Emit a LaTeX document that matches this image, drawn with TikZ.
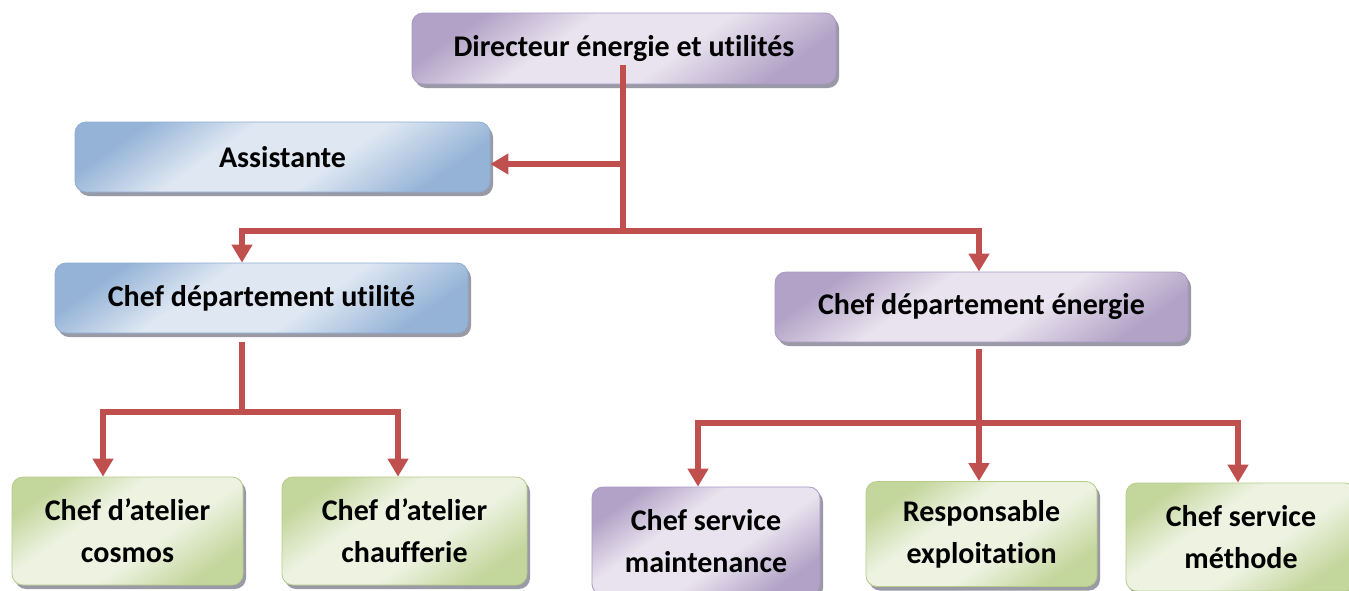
\documentclass[tikz,border=0pt]{standalone}
\usepackage{fontspec}
\setmainfont{Carlito}[Ligatures=NoCommon]
\usetikzlibrary{arrows.meta,shadows}
\definecolor{purD}{HTML}{B3A2C7}
\definecolor{purL}{HTML}{E8E3EE}
\definecolor{purB}{HTML}{A898C4}
\definecolor{bluD}{HTML}{95B3D7}
\definecolor{bluL}{HTML}{DEE7F2}
\definecolor{bluB}{HTML}{8EACD3}
\definecolor{grnD}{HTML}{C3D69B}
\definecolor{grnL}{HTML}{EDF2E1}
\definecolor{grnB}{HTML}{B6CC8A}
\definecolor{shad}{HTML}{9A9AA6}
\definecolor{lnk}{HTML}{C0504D}
\pgfdeclareverticalshading{purshade}{100bp}{color(0bp)=(purD); color(25bp)=(purD); color(42bp)=(purL); color(60bp)=(purL); color(75bp)=(purD); color(100bp)=(purD)}
\pgfdeclareverticalshading{blushade}{100bp}{color(0bp)=(bluD); color(25bp)=(bluD); color(42bp)=(bluL); color(60bp)=(bluL); color(75bp)=(bluD); color(100bp)=(bluD)}
\pgfdeclareverticalshading{grnshade}{100bp}{color(0bp)=(grnD); color(25bp)=(grnD); color(42bp)=(grnL); color(60bp)=(grnL); color(75bp)=(grnD); color(100bp)=(grnD)}
\tikzset{
  box/.style={rounded corners=11pt, line width=0.8pt, align=center,
    font=\fontsize{30}{42}\selectfont\bfseries, inner sep=0pt,
    drop shadow={shadow xshift=3pt, shadow yshift=-4pt, fill=shad, opacity=1}},
  pbox/.style={box, draw=purB, shading=purshade, shading angle=35},
  bbox/.style={box, draw=bluB, shading=blushade, shading angle=35},
  gbox/.style={box, draw=grnB, shading=grnshade, shading angle=35},
  conn/.style={draw=lnk, line width=6pt, line join=miter},
  arr/.style={-{Triangle[width=20pt,length=18pt]}}
}
\begin{document}
\begin{tikzpicture}[x=1pt,y=1pt]
\useasboundingbox (0,0) rectangle (1349,-590);
\node[pbox, minimum width=424pt, minimum height=71pt] (dir) at (624,-48.5) {Directeur énergie et utilités};
\node[bbox, minimum width=415pt, minimum height=70pt] (asst) at (282.5,-157) {Assistante};
\node[bbox, minimum width=413pt, minimum height=70pt] (util) at (261.5,-298) {Chef département utilité};
\node[pbox, minimum width=413pt, minimum height=70pt] (ener) at (981.5,-307) {Chef département énergie};
\node[gbox, minimum width=231pt, minimum height=108pt] (cosm) at (127.5,-531) {Chef d’atelier\\cosmos};
\node[gbox, minimum width=245pt, minimum height=108pt] (chau) at (404.5,-531) {Chef d’atelier\\chaufferie};
\node[pbox, minimum width=228pt, minimum height=108pt] (maint) at (706,-541) {Chef service\\maintenance};
\node[gbox, minimum width=231pt, minimum height=105pt] (resp) at (981.5,-534) {Responsable\\exploitation};
\node[gbox, minimum width=230pt, minimum height=108pt] (meth) at (1241,-537) {Chef service\\méthode};
% director connectors
\coordinate (jA) at (623,-164);
\coordinate (jB) at (623,-231);
\coordinate (lB) at (242,-231);
\coordinate (rB) at (979,-231);
\draw[conn] (dir.south -| jB) ++(0,19) -- (jB);
\draw[conn,arr] (jA) -- (jA -| asst.east);
\draw[conn,arr] (jB) -- (lB) -- (lB |- util.north);
\draw[conn,arr] (jB) -- (rB) -- (rB |- ener.north);
% utility connectors
\coordinate (uB) at (242,-412);
\coordinate (uL) at (103,-412);
\coordinate (uR) at (398,-412);
\draw[conn] (uB |- util.south) ++(0,-9) -- (uB);
\draw[conn,arr] (uB) -- (uL) -- (uL |- cosm.north);
\draw[conn,arr] (uB) -- (uR) -- (uR |- chau.north);
% energy connectors
\coordinate (eB) at (979,-423);
\coordinate (eL) at (698,-423);
\coordinate (eR) at (1238,-423);
\draw[conn,arr] (eB |- ener.south) ++(0,-7) -- (eB |- resp.north);
\draw[conn,arr] (eB) -- (eL) -- (eL |- maint.north);
\draw[conn,arr] (eB) -- (eR) -- (eR |- meth.north);
\end{tikzpicture}
\end{document}
